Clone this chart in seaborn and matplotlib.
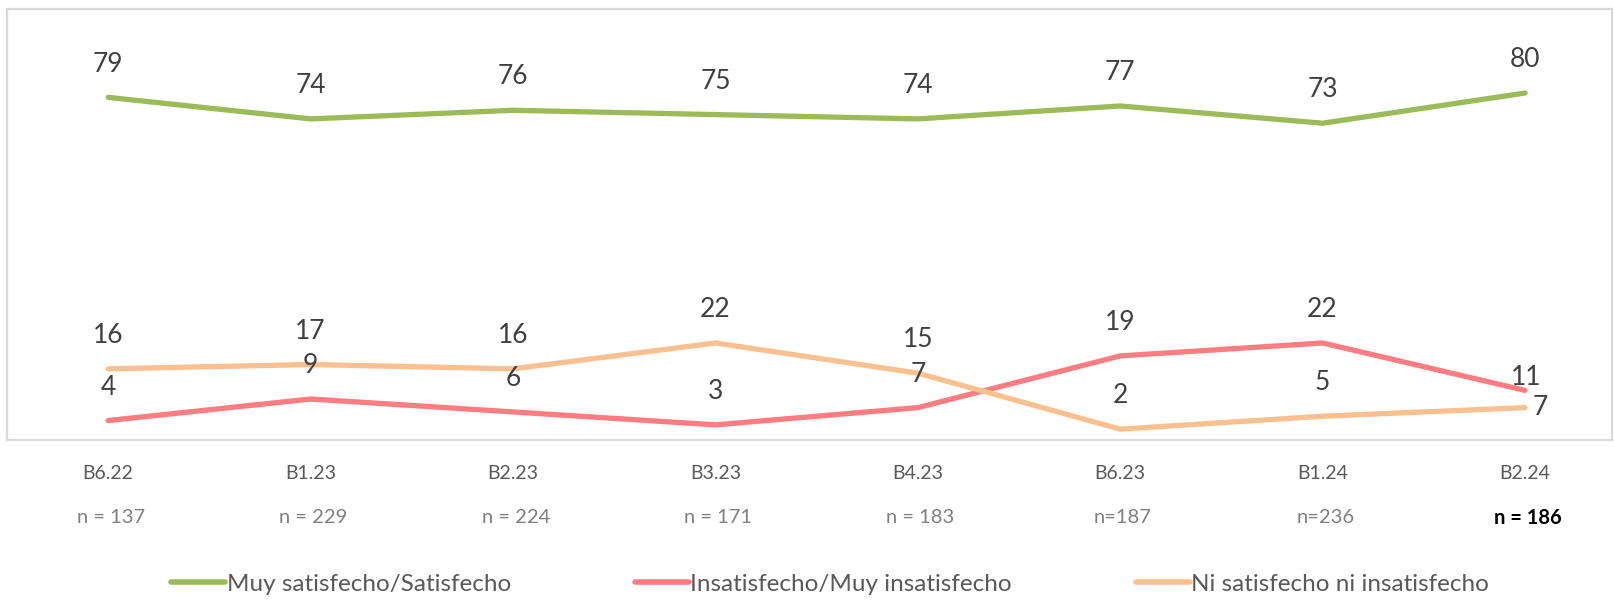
import matplotlib
matplotlib.use("Agg")
import matplotlib.pyplot as plt
import seaborn as sns
import pandas as pd

categories = ["B6.22", "B1.23", "B2.23", "B3.23", "B4.23", "B6.23", "B1.24", "B2.24"]
n_labels = ["n = 137", "n = 229", "n = 224", "n = 171", "n = 183", "n=187", "n=236", "n = 186"]
satisfecho = [79, 74, 76, 75, 74, 77, 73, 80]
insatisfecho = [4, 9, 6, 3, 7, 19, 22, 11]
ni_ni = [16, 17, 16, 22, 15, 2, 5, 7]
series_names = ["Muy satisfecho/Satisfecho", "Insatisfecho/Muy insatisfecho", "Ni satisfecho ni insatisfecho"]
colors = ["#9BBB59", "#FF7C80", "#FAC090"]

sns.set_theme(style="white")
plt.rcParams['font.family'] = ['Lato', 'DejaVu Sans']

rows = []
for name, vals in zip(series_names, [satisfecho, insatisfecho, ni_ni]):
    for i, v in enumerate(vals):
        rows.append({"x": i, "value": v, "serie": name})
df = pd.DataFrame(rows)

fig = plt.figure(figsize=(16.14, 6.01), dpi=100)
ax = fig.add_axes([0.0043, 0.268, 0.9945, 0.717])

sns.lineplot(data=df, x="x", y="value", hue="serie", hue_order=series_names,
             palette=colors, linewidth=3.8, ax=ax, legend=True,
             solid_capstyle="round")

ax.set_xlim(-0.5, 7.43)
ax.set_ylim(-0.5, 99.5)
ax.set_yticks([])
ax.set_xticks(range(len(categories)))
ax.set_xticklabels(categories, fontsize=14, color="#595959")
ax.tick_params(axis="x", length=0, pad=18)
ax.set_xlabel("")
ax.set_ylabel("")
for s in ax.spines.values():
    s.set_color("#D9D9D9")
    s.set_linewidth(1.6)

label_color = "#404040"
for name, vals in zip(series_names, [satisfecho, insatisfecho, ni_ni]):
    for i, v in enumerate(vals):
        dx, dy = 0, 24
        if name == series_names[2] and i == 7:
            dx, dy = 11, 0
        if name == series_names[1] and i == 7:
            dx, dy = 1, 9
        ax.annotate(str(v), xy=(i, v), xytext=(dx, dy), textcoords="offset points",
                    ha="center", va="center", fontsize=19, color=label_color)

trans = ax.get_xaxis_transform()
for i, lab in enumerate(n_labels):
    last = i == len(n_labels) - 1
    ax.annotate(lab, xy=(i, 0), xycoords=trans, xytext=(2, -56), textcoords="offset points",
                ha="center", va="center", fontsize=14.5,
                color="black" if last else "#808080",
                fontweight="bold" if last else "normal")

ax.legend(loc="center", bbox_to_anchor=(0.513, -0.335), ncol=3, frameon=False,
          fontsize=17.5, handlelength=2.2, handletextpad=0.08, columnspacing=5.1,
          labelcolor="#595959", borderpad=0.2)
for line in ax.get_legend().get_lines():
    line.set_linewidth(4)

fig.savefig("out.png", dpi=100)
